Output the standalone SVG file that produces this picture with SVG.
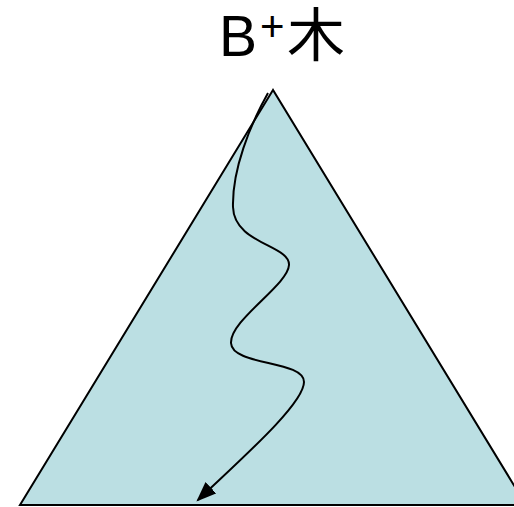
<svg xmlns="http://www.w3.org/2000/svg" width="514" height="507" viewBox="0 0 514 507">
<style>
.title{font-family:"Liberation Sans","Noto Sans CJK SC",sans-serif;fill:#000}
.tri{fill:#BBDFE3;stroke:#000;stroke-width:2}
.path{fill:none;stroke:#000;stroke-width:2}
</style>
<defs>
<marker id="arr" markerUnits="userSpaceOnUse" markerWidth="20" markerHeight="16" refX="16" refY="7" orient="auto" viewBox="0 0 18 14">
<path d="M0,0 L18,7 L0,14 Z" fill="#000"/>
</marker>
</defs>
<rect width="514" height="507" fill="#fff"/>
<g id="title">
<text class="title" x="219" y="56" font-size="57">B</text>
<text class="title" x="260" y="41" font-size="42">+</text>
<text class="title" x="287" y="56" font-size="58">木</text>
</g>
<g id="tree">
<polygon class="tri" points="273,90 20,505 526,505"/>
</g>
<g id="connectors">
<path class="path" marker-end="url(#arr)" d="M 268 93 C 250 125, 232 170, 233 207 S 290 245, 289 265 S 230 320, 231 343 S 304 360, 304 382 S 240 460, 198 500"/>
</g>
</svg>
